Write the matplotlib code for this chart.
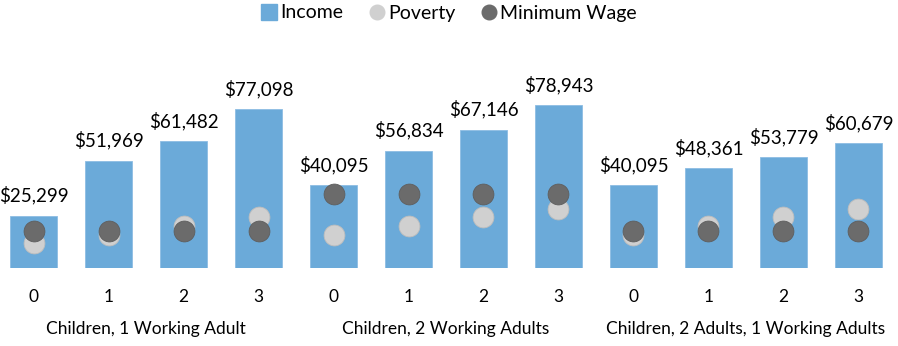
import numpy as np
import matplotlib
matplotlib.use('Agg')
import matplotlib.pyplot as plt
from matplotlib.lines import Line2D

plt.rcParams['font.family'] = ['Lato', 'DejaVu Sans']

# Data
groups = ['Children, 1 Working Adult', 'Children, 2 Working Adults', 'Children, 2 Adults, 1 Working Adults']
children = ['0', '1', '2', '3']
income = [25299, 51969, 61482, 77098,
          40095, 56834, 67146, 78943,
          40095, 48361, 53779, 60679]
poverty = [12060, 16240, 20420, 24600,
           16240, 20420, 24600, 28780,
           16240, 20420, 24600, 28780]
min_wage = [17992, 17992, 17992, 17992,
            35984, 35984, 35984, 35984,
            17992, 17992, 17992, 17992]

bar_color = '#6BAAD9'
pov_color = '#D0D0D0'
mw_color = '#6B6B6B'

fig = plt.figure(figsize=(8.98, 3.46), dpi=100)
ax = fig.add_axes([0.0, 0.2254, 1.0, 0.5954])

x = np.arange(len(income))
ax.bar(x, income, width=0.63, color=bar_color, edgecolor='#8DBDE3', linewidth=0.6, zorder=1)
ax.scatter(x, poverty, s=225, color=pov_color, edgecolors='#BDBDBD', linewidths=0.6, zorder=2)
ax.scatter(x, min_wage, s=225, color=mw_color, edgecolors='#5E5E5E', linewidths=0.6, zorder=3)

for xi, v in zip(x, income):
    ax.annotate('${:,}'.format(v), (xi, v), xytext=(0, 8), textcoords='offset points',
                ha='center', va='bottom', fontsize=13.5, color='black')

ax.set_xlim(-0.447, 11.527)
ax.set_ylim(0, 100000)
ax.axis('off')

# category labels
for xi in x:
    fig.text(ax.transData.transform((xi, 0))[0] / fig.dpi / 8.98, 1 - 297 / 346,
             children[xi % 4], ha='center', va='center', fontsize=12.5)
for gi, g in enumerate(groups):
    gx = ax.transData.transform((gi * 4 + 1.5, 0))[0] / fig.dpi / 8.98
    fig.text(gx, 1 - 329 / 346, g, ha='center', va='center', fontsize=12.5)

handles = [
    Line2D([], [], marker='s', linestyle='', markersize=11, color=bar_color, label='Income'),
    Line2D([], [], marker='o', linestyle='', markersize=10.5, color=pov_color, label='Poverty'),
    Line2D([], [], marker='o', linestyle='', markersize=10.5, color=mw_color, label='Minimum Wage'),
]
fig.legend(handles=handles, loc='center', bbox_to_anchor=(0.5, 1 - 13 / 346), ncol=3,
           frameon=False, fontsize=14, handletextpad=0.2, columnspacing=1.3,
           handlelength=0.8, borderaxespad=0)

fig.savefig('out.png', dpi=100)
